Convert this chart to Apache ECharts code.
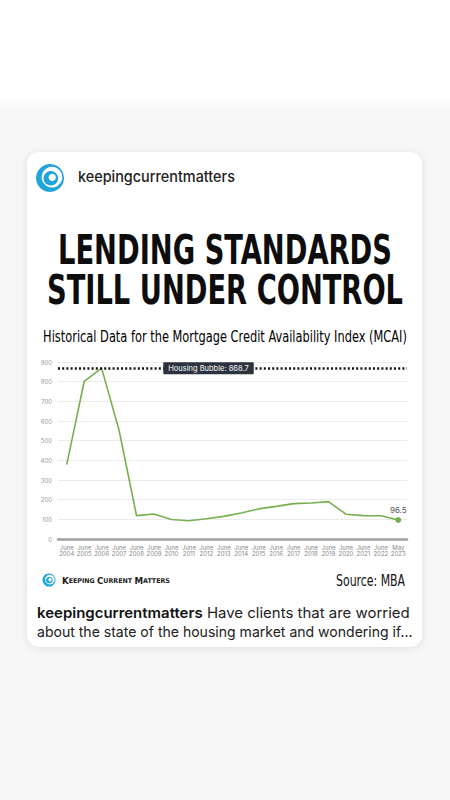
<!DOCTYPE html>
<html>
<head>
<meta charset="utf-8">
<script src="https://cdn.jsdelivr.net/npm/echarts@6/dist/echarts.min.js"></script>
<style>
  html, body { margin: 0; padding: 0; width: 450px; height: 800px; overflow: hidden; }
  body { background: linear-gradient(#ffffff 0px, #ffffff 95px, #f7f7f7 110px, #f7f7f7 100%); position: relative; }
  #card { position: absolute; left: 27px; top: 152px; width: 395px; height: 495px; background: #fff;
          border-radius: 12px; box-shadow: 0 1px 8px rgba(0,0,0,0.10); }
  #chart { position: absolute; left: 0; top: 0; width: 450px; height: 800px; }
</style>
</head>
<body>
<div id="card"></div>
<div id="chart"></div>
<script>
// ---------------- data ----------------
const categories = ['June\n2004','June\n2005','June\n2006','June\n2007','June\n2008','June\n2009','June\n2010',
  'June\n2011','June\n2012','June\n2013','June\n2014','June\n2015','June\n2016','June\n2017','June\n2018',
  'June\n2019','June\n2020','June\n2021','June\n2022','May\n2023'];
const mcaiValues = [378, 801, 868.7, 553, 119, 127, 99, 93, 103, 115, 132, 153, 166, 180, 183, 190, 126, 119, 118, 96.5];
const yMin = 0, yMax = 900, yInterval = 100;
const bubbleValue = 868.7;
const bubbleName = 'Housing Bubble';

// ---------------- texts ----------------
const handle = 'keepingcurrentmatters';
const titleLines = ['LENDING STANDARDS', 'STILL UNDER CONTROL'];
const subtitle = 'Historical Data for the Mortgage Credit Availability Index (MCAI)';
const brandWords = ['Keeping', 'Current', 'Matters'];
const sourceText = 'Source: MBA';
const captionRest1 = ' Have clients that are worried';
const captionLine2 = 'about the state of the housing market and wondering if...';

// ---------------- helpers ----------------
const ctx = document.createElement('canvas').getContext('2d');
function measure(font, text) { ctx.font = font; return ctx.measureText(text).width; }
const COND = '"DejaVu Sans Condensed", "DejaVu Sans", sans-serif';
const SANS = '"Inter", "Roboto", "Noto Sans", sans-serif';

function fitText(text, font, x, y, targetW, align, fill) {
  const w = measure(font, text);
  return { type: 'text', x: x, y: y, scaleX: targetW / w, z: 100,
    style: { text: text, x: 0, y: 0, font: font, fill: fill || '#111',
             align: align, verticalAlign: 'middle', textAlign: align, textVerticalAlign: 'middle' } };
}

function logo(cx, cy, r) {
  const blue = '#1fa4dc';
  return { type: 'group', z: 100, children: [
    { type: 'circle', shape: { cx: cx, cy: cy, r: r }, style: { fill: blue } },
    { type: 'circle', shape: { cx: cx + r * 0.14, cy: cy - r * 0.06, r: r * 0.74 }, style: { fill: '#fff' } },
    { type: 'circle', shape: { cx: cx + r * 0.06, cy: cy + r * 0.02, r: r * 0.52 }, style: { fill: blue } },
    { type: 'circle', shape: { cx: cx + r * 0.16, cy: cy - r * 0.04, r: r * 0.26 }, style: { fill: '#fff' } }
  ]};
}

// brand text in small caps
const bigF = 'bold 9px "DejaVu Sans", sans-serif', smallF = 'bold 6.6px "DejaVu Sans", sans-serif';
let brandW = 0; const brandRich = [];
brandWords.forEach((wd, i) => {
  const first = wd[0], rest = wd.slice(1).toUpperCase() + (i < brandWords.length - 1 ? ' ' : '');
  brandW += measure(bigF, first) + measure(smallF, rest);
  brandRich.push('{b|' + first + '}{s|' + rest + '}');
});

// caption line 1 rich
const capFontB = '600 14.5px ' + SANS, capFontN = '400 14.5px ' + SANS;
const cap1W = measure(capFontB, handle) + measure(capFontN, captionRest1);

const chart = echarts.init(document.getElementById('chart'), null, { renderer: 'svg' });

const seriesData = mcaiValues.map((v, i) => i === mcaiValues.length - 1
  ? { value: v, symbol: 'circle', symbolSize: 6,
      label: { show: true, position: 'top', distance: 3, fontSize: 8, color: '#555', fontFamily: SANS } }
  : { value: v });

chart.setOption({
  backgroundColor: 'transparent',
  animation: false,
  grid: { left: 58, right: 43, top: 362, bottom: 261, containLabel: false },
  xAxis: {
    type: 'category', data: categories, boundaryGap: true,
    axisLine: { show: true, lineStyle: { color: '#a0a0a0', width: 2.5 } },
    axisTick: { show: false },
    axisLabel: { interval: 0, fontSize: 6, lineHeight: 6.5, color: '#888', margin: 5, fontFamily: SANS }
  },
  yAxis: {
    type: 'value', min: yMin, max: yMax, interval: yInterval,
    axisLine: { show: false }, axisTick: { show: false },
    axisLabel: { fontSize: 6, color: '#999', margin: 6, fontFamily: SANS },
    splitLine: { lineStyle: { color: '#ececec', width: 1 } }
  },
  series: [{
    type: 'line', data: seriesData, symbol: 'none', showSymbol: true,
    lineStyle: { color: '#76b04f', width: 1.6 }, itemStyle: { color: '#76b04f' },
    markLine: {
      silent: true, symbol: ['none', 'none'],
      lineStyle: { type: [2, 2.2], color: '#111', width: 2.6 },
      label: {
        show: true, position: 'middle', formatter: bubbleName + ': ' + bubbleValue,
        color: '#fff', backgroundColor: '#2c323d', fontSize: 7.5, padding: [2, 5, 2, 5],
        borderRadius: 1, fontFamily: SANS, distance: -6, offset: [-24, 0]
      },
      data: [{ yAxis: bubbleValue }]
    }
  }],
  graphic: [
    logo(50, 178, 14),
    fitText(handle, '500 15px ' + SANS, 78, 177, 157, 'left', '#222'),
    fitText(titleLines[0], 'bold 40px ' + COND, 225, 249.5, 334, 'center', '#0d0d0d'),
    fitText(titleLines[1], 'bold 40px ' + COND, 225, 289.5, 356, 'center', '#0d0d0d'),
    fitText(subtitle, '16.5px ' + COND, 225, 336, 364, 'center', '#000'),
    logo(49, 580, 6.5),
    { type: 'text', x: 62, y: 580.5, z: 100, scaleX: 108 / brandW,
      style: { text: brandRich.join(''), x: 0, y: 0, fill: '#1a1a1a', align: 'left', verticalAlign: 'middle',
        textAlign: 'left', textVerticalAlign: 'middle',
        rich: { b: { font: bigF, fill: '#1a1a1a' }, s: { font: smallF, fill: '#1a1a1a' } } } },
    fitText(sourceText, '16px ' + COND, 405, 580, 69, 'right', '#111'),
    { type: 'text', x: 37, y: 613, z: 100, scaleX: 373 / cap1W,
      style: { text: '{b|' + handle + '}{n|' + captionRest1 + '}', x: 0, y: 0, align: 'left', verticalAlign: 'middle',
        textAlign: 'left', textVerticalAlign: 'middle',
        rich: { b: { font: capFontB, fill: '#111' }, n: { font: capFontN, fill: '#222' } } } },
    fitText(captionLine2, capFontN, 37, 631, 376, 'left', '#222')
  ]
});
</script>
</body>
</html>
